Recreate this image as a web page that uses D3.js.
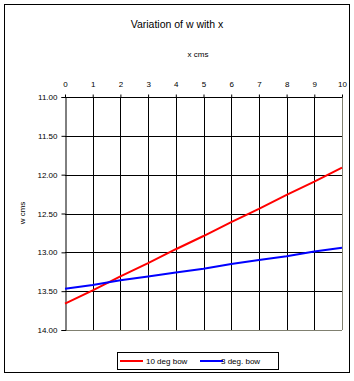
<!DOCTYPE html>
<meta charset="utf-8">
<style>
  body { margin: 0; background: #fff; }
  text { font-family: "Liberation Sans", Arial, sans-serif; fill: #000; }
</style>
<body>
<div id="chart"></div>
<script src="https://cdn.jsdelivr.net/npm/d3@7"></script>
<script>
// data
var xValues = [0, 1, 2, 3, 4, 5, 6, 7, 8, 9, 10];
var bow10 = [13.66, 13.49, 13.31, 13.14, 12.96, 12.79, 12.61, 12.44, 12.26, 12.09, 11.91];
var bow3  = [13.47, 13.42, 13.36, 13.31, 13.26, 13.21, 13.15, 13.10, 13.05, 12.99, 12.94];
var xTicks = [0, 1, 2, 3, 4, 5, 6, 7, 8, 9, 10];
var yTicks = [11, 11.5, 12, 12.5, 13, 13.5, 14];
var seriesNames = ["10 deg bow", "3 deg. bow"];
var seriesColors = ["#ff0000", "#0000ff"];

var W = 354, H = 381;
var margin = {top: 97, right: 12, bottom: 51, left: 65},
    width = 342 - margin.left,
    height = 330 - margin.top;

var svg = d3.select("#chart").append("svg")
    .attr("width", W)
    .attr("height", H);

// outer frame
svg.append("rect")
    .attr("x", 4.5).attr("y", 4.5)
    .attr("width", 345).attr("height", 368)
    .attr("fill", "none").attr("stroke", "#000");

svg.append("text")
    .attr("x", 177).attr("y", 28)
    .attr("text-anchor", "middle")
    .attr("font-size", "10.5px")
    .text("Variation of w with x");

var g = svg.append("g")
    .attr("transform", "translate(" + margin.left + "," + margin.top + ")");

var x = d3.scaleLinear().domain([0, 10]).range([0, width]);
var y = d3.scaleLinear().domain([11, 14]).range([0, height]);

// grid
g.selectAll(".vgrid").data(xTicks.slice(1, -1)).enter().append("line")
    .attr("x1", function(d) { return Math.round(x(d)) + 0.5; })
    .attr("x2", function(d) { return Math.round(x(d)) + 0.5; })
    .attr("y1", 0).attr("y2", height)
    .attr("stroke", "#000");
g.selectAll(".hgrid").data(yTicks.slice(0, -1)).enter().append("line")
    .attr("x1", 0).attr("x2", width)
    .attr("y1", function(d) { return Math.round(y(d)) + 0.5; })
    .attr("y2", function(d) { return Math.round(y(d)) + 0.5; })
    .attr("stroke", "#000");

// plot border right/bottom in grey
g.append("line").attr("x1", width + 0.5).attr("x2", width + 0.5)
    .attr("y1", 0).attr("y2", height).attr("stroke", "#808070");
g.append("line").attr("x1", 0).attr("x2", width)
    .attr("y1", height + 0.5).attr("y2", height + 0.5).attr("stroke", "#808070");

// axes
var xAxis = g.append("g")
    .attr("transform", "translate(0,0.5)")
    .call(d3.axisTop(x).tickValues(xTicks).tickSize(3).tickPadding(8).tickFormat(d3.format("d")));
xAxis.select(".domain").remove();
xAxis.selectAll("text").attr("font-size", "8px").style("font-family", "'Liberation Sans', Arial, sans-serif");

var yAxis = g.append("g")
    .attr("transform", "translate(0.5,0)")
    .call(d3.axisLeft(y).tickValues(yTicks).tickSize(4).tickPadding(4).tickFormat(d3.format(".2f")));
yAxis.selectAll("text").attr("font-size", "8px").style("font-family", "'Liberation Sans', Arial, sans-serif");

svg.append("text")
    .attr("x", 198).attr("y", 57)
    .attr("text-anchor", "middle")
    .attr("font-size", "8px")
    .text("x cms");

svg.append("text")
    .attr("transform", "translate(25,213) rotate(-90)")
    .attr("text-anchor", "middle")
    .attr("font-size", "8px")
    .text("w cms");

// lines
var line = d3.line()
    .x(function(d, i) { return x(xValues[i]); })
    .y(function(d) { return y(d); });

[bow10, bow3].forEach(function(s, i) {
  g.append("path")
      .datum(s)
      .attr("fill", "none")
      .attr("stroke", seriesColors[i])
      .attr("stroke-width", 2)
      .attr("d", line);
});

// legend
var lg = svg.append("g");
lg.append("rect")
    .attr("x", 117.5).attr("y", 352.5)
    .attr("width", 161).attr("height", 17)
    .attr("fill", "#fff").attr("stroke", "#000");
var legX = [120, 200];
seriesNames.forEach(function(n, i) {
  lg.append("line")
      .attr("x1", legX[i]).attr("x2", legX[i] + 23)
      .attr("y1", 361).attr("y2", 361)
      .attr("stroke", seriesColors[i]).attr("stroke-width", 2);
  lg.append("text")
      .attr("x", legX[i] + 24 + (i === 0 ? 2 : -3)).attr("y", 364)
      .attr("font-size", "8px")
      .text(n);
});
</script>
</body>
